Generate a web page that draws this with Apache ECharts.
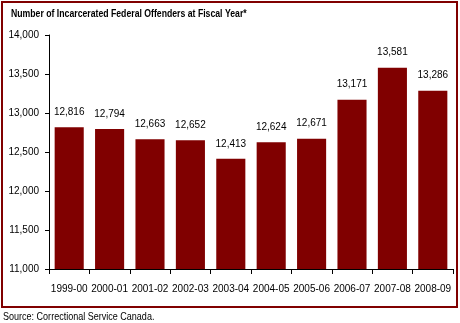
<!DOCTYPE html>
<html><head><meta charset="utf-8">
<script src="https://cdn.jsdelivr.net/npm/echarts@6/dist/echarts.min.js"></script>
<style>html,body{margin:0;padding:0;background:#fff}#c{width:460px;height:323px}</style>
</head><body><div id="c"></div>
<script>
const categories = ['1999-00','2000-01','2001-02','2002-03','2003-04','2004-05','2005-06','2006-07','2007-08','2008-09'];
const offenders = [12816, 12794, 12663, 12652, 12413, 12624, 12671, 13171, 13581, 13286];
const titleText = 'Number of Incarcerated Federal Offenders at Fiscal Year*';
const sourceText = 'Source: Correctional Service Canada.';
const FONT = '"Liberation Sans", Arial, sans-serif';
const chart = echarts.init(document.getElementById('c'), null, {renderer:'canvas'});
chart.setOption({
  animation:false,
  backgroundColor:'#fff',
  graphic:[
    {type:'rect', shape:{x:2,y:2,width:455,height:305}, style:{fill:'none', stroke:'#800000', lineWidth:2}, silent:true},
    {type:'text', x:11, y:8, scaleX:0.79, style:{text:titleText, font:'bold 11px '+FONT, fill:'#000'}},
    {type:'text', x:3, y:311, scaleX:0.82, style:{text:sourceText, font:'11px '+FONT, fill:'#000'}}
  ],
  grid:{left:49, right:7, top:35, bottom:54, containLabel:false},
  xAxis:{type:'category', data:categories,
    axisLine:{lineStyle:{color:'#000', width:1}},
    axisTick:{show:true, length:5, alignWithLabel:false, lineStyle:{color:'#000'}},
    axisLabel:{fontFamily:FONT, fontSize:10, color:'#000', margin:15, interval:0}},
  yAxis:{type:'value', min:11000, max:14000, interval:500,
    axisLine:{show:true, lineStyle:{color:'#000'}},
    axisTick:{show:true, length:4, lineStyle:{color:'#000'}},
    splitLine:{show:false},
    axisLabel:{fontFamily:FONT, fontSize:10, color:'#000', margin:10,
      formatter:v=>v.toLocaleString('en-US')}},
  series:[{type:'bar', data:offenders, barCategoryGap:'28%',
    itemStyle:{color:'#800000'},
    label:{show:true, position:'top', distance:10, fontFamily:FONT, fontSize:10, color:'#000',
      formatter:p=>p.value.toLocaleString('en-US')}}]
});
</script></body></html>
